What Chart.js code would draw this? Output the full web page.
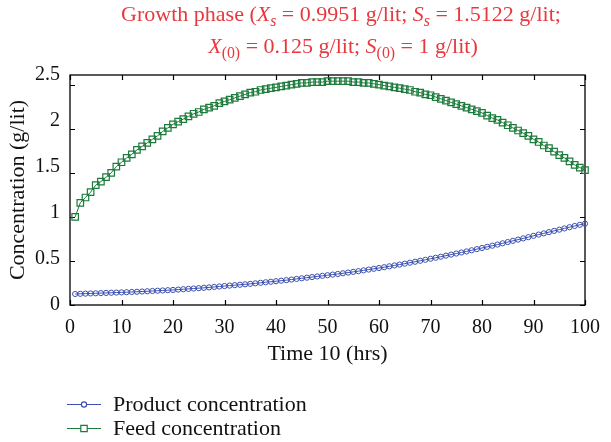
<!DOCTYPE html>
<html>
<head>
<meta charset="utf-8">
<script src="https://cdn.jsdelivr.net/npm/chart.js@4/dist/chart.umd.min.js"></script>
<style>
html,body{margin:0;padding:0;background:#fff;}
#wrap{width:611px;height:442px;}
</style>
</head>
<body>
<div id="wrap"><canvas id="c" width="611" height="442"></canvas></div>
<script>
// ---------- data ----------
const time = [1,2,3,4,5,6,7,8,9,10,11,12,13,14,15,16,17,18,19,20,
  21,22,23,24,25,26,27,28,29,30,31,32,33,34,35,36,37,38,39,40,
  41,42,43,44,45,46,47,48,49,50,51,52,53,54,55,56,57,58,59,60,
  61,62,63,64,65,66,67,68,69,70,71,72,73,74,75,76,77,78,79,80,
  81,82,83,84,85,86,87,88,89,90,91,92,93,94,95,96,97,98,99,100];

const productConc = [0.125,0.127,0.129,0.131,0.133,0.135,0.137,0.139,0.141,0.143,
  0.145,0.148,0.150,0.153,0.156,0.159,0.162,0.165,0.168,0.171,
  0.175,0.179,0.183,0.187,0.191,0.195,0.200,0.205,0.210,0.215,
  0.220,0.225,0.230,0.235,0.240,0.246,0.252,0.258,0.264,0.270,
  0.276,0.282,0.289,0.296,0.303,0.310,0.317,0.324,0.331,0.338,
  0.345,0.352,0.360,0.368,0.376,0.384,0.393,0.402,0.411,0.420,
  0.429,0.439,0.449,0.459,0.469,0.480,0.491,0.502,0.513,0.525,
  0.536,0.548,0.560,0.572,0.584,0.596,0.608,0.621,0.634,0.647,
  0.660,0.673,0.686,0.700,0.714,0.728,0.742,0.756,0.770,0.785,
  0.799,0.813,0.827,0.841,0.855,0.869,0.883,0.897,0.910,0.923];

const feedConc = [1.00,1.16,1.22,1.28,1.36,1.40,1.45,1.50,1.57,1.62,
  1.67,1.71,1.76,1.80,1.84,1.88,1.92,1.97,2.01,2.05,
  2.08,2.11,2.14,2.17,2.19,2.22,2.24,2.26,2.29,2.31,
  2.33,2.35,2.37,2.39,2.41,2.42,2.44,2.45,2.46,2.47,
  2.48,2.49,2.50,2.51,2.52,2.52,2.53,2.53,2.53,2.54,
  2.54,2.54,2.54,2.54,2.53,2.53,2.52,2.52,2.51,2.50,
  2.49,2.48,2.47,2.46,2.45,2.44,2.42,2.41,2.39,2.38,
  2.36,2.34,2.32,2.30,2.28,2.26,2.24,2.22,2.20,2.18,
  2.15,2.12,2.10,2.07,2.04,2.01,1.98,1.95,1.92,1.88,
  1.85,1.81,1.78,1.74,1.70,1.67,1.63,1.59,1.56,1.53];

const xTicks = [0,10,20,30,40,50,60,70,80,90,100];
const yTicks = [0,0.5,1,1.5,2,2.5];
const seriesNames = ['Product concentration','Feed concentration'];

// ---------- styles ----------
const FONT = '"Liberation Serif", "Times New Roman", serif';
const BLUE = '#3a4fb0';
const GREEN = '#1b7b3b';
const RED = '#e8383d';

const titleLines = [
  [{t:'Growth phase ('},{t:'X',it:1},{t:'s',it:1,sub:1},{t:' = 0.9951 g/lit; '},{t:'S',it:1},{t:'s',it:1,sub:1},{t:' = 1.5122 g/lit;'}],
  [{t:'X',it:1},{t:'(0)',sub:1},{t:' = 0.125 g/lit; '},{t:'S',it:1},{t:'(0)',sub:1},{t:' = 1 g/lit)'}]
];

function segFont(s, size){
  const sz = s.sub ? size*0.72 : size;
  return (s.it ? 'italic ' : '') + sz + 'px ' + FONT;
}
function drawRich(ctx, segs, cx, baseline, size){
  let w = 0;
  segs.forEach(s => { ctx.font = segFont(s,size); w += ctx.measureText(s.t).width; });
  let x = cx - w/2;
  segs.forEach(s => {
    ctx.font = segFont(s,size);
    ctx.fillText(s.t, x, baseline + (s.sub ? size*0.22 : 0));
    x += ctx.measureText(s.t).width;
  });
}

const decorPlugin = {
  id:'decor',
  beforeDatasetsDraw(chart){
    const {ctx, chartArea:a, scales:{x,y}} = chart;
    ctx.save();
    ctx.strokeStyle = '#000';
    ctx.lineWidth = 1.3;
    ctx.strokeRect(a.left, a.top, a.right-a.left, a.bottom-a.top);
    ctx.lineWidth = 1.2;
    ctx.beginPath();
    const L = 5;
    xTicks.forEach(v => {
      const px = Math.round(x.getPixelForValue(v)) + 0.5;
      ctx.moveTo(px, a.bottom); ctx.lineTo(px, a.bottom - L);
      ctx.moveTo(px, a.top); ctx.lineTo(px, a.top + L);
    });
    yTicks.forEach(v => {
      const py = Math.round(y.getPixelForValue(v)) + 0.5;
      ctx.moveTo(a.left, py); ctx.lineTo(a.left + L, py);
      ctx.moveTo(a.right, py); ctx.lineTo(a.right - L, py);
    });
    ctx.stroke();
    ctx.restore();
  },
  afterDraw(chart){
    const ctx = chart.ctx;
    ctx.save();
    // title
    ctx.fillStyle = RED;
    ctx.textBaseline = 'alphabetic';
    ctx.textAlign = 'left';
    drawRich(ctx, titleLines[0], 341, 21, 22);
    drawRich(ctx, titleLines[1], 343, 53, 22);
    // legend
    const rows = [
      {name: seriesNames[0], color: BLUE, style:'circle', y: 404},
      {name: seriesNames[1], color: GREEN, style:'rect', y: 428}
    ];
    rows.forEach(r => {
      ctx.strokeStyle = r.color;
      ctx.lineWidth = 1.2;
      ctx.beginPath(); ctx.moveTo(67, r.y + 0.5); ctx.lineTo(101, r.y + 0.5); ctx.stroke();
      ctx.beginPath();
      if (r.style === 'circle') ctx.arc(84, r.y + 0.5, 2.6, 0, Math.PI*2);
      else ctx.rect(80.8, r.y - 2.7, 6.4, 6.4);
      ctx.fillStyle = '#fff'; ctx.fill(); ctx.stroke();
      ctx.fillStyle = '#111';
      ctx.font = '22px ' + FONT;
      ctx.textBaseline = 'middle';
      ctx.fillText(r.name, 113, r.y + 1);
    });
    ctx.restore();
  }
};

new Chart(document.getElementById('c'), {
  type: 'line',
  data: {
    datasets: [
      {
        label: seriesNames[0], yAxisID: 'y',
        data: time.map((t,i) => ({x:t, y:productConc[i]})),
        borderColor: BLUE, borderWidth: 1,
        pointStyle: 'circle', pointRadius: 2.6, pointBorderWidth: 1,
        pointBorderColor: BLUE, pointBackgroundColor: 'rgba(255,255,255,0)',
        tension: 0, clip: false
      },
      {
        label: seriesNames[1], yAxisID: 'y',
        data: time.map((t,i) => ({x:t, y:feedConc[i]})),
        borderColor: GREEN, borderWidth: 1,
        pointStyle: 'rect', pointRadius: 4.6, pointBorderWidth: 1.2,
        pointBorderColor: GREEN, pointBackgroundColor: 'rgba(255,255,255,0)',
        tension: 0, clip: false
      }
    ]
  },
  options: {
    responsive: false,
    animation: false,
    devicePixelRatio: 1,
    layout: { padding: { top: 75, right: 15, bottom: 0, left: 0 } },
    plugins: { legend: { display: false }, title: { display: false }, tooltip: { enabled: false } },
    scales: {
      x: {
        type: 'linear', min: 0, max: 100,
        afterBuildTicks: s => { s.ticks = xTicks.map(v => ({value: v})); },
        afterFit: s => { s.height = 137; },
        grid: { display: false, drawTicks: false },
        border: { display: false },
        ticks: { color: '#111', font: { family: FONT, size: 20 }, padding: 11, maxRotation: 0, autoSkip: false,
                 callback: v => String(v) },
        title: { display: true, text: 'Time 10 (hrs)', color: '#111', font: { family: FONT, size: 22 },
                 padding: { top: 0, bottom: 75 } }
      },
      y: {
        type: 'linear', min: 0, max: 2.61, display: false
      },
      yLab: {
        type: 'linear', position: 'left', min: 0, max: 2.5,
        afterBuildTicks: s => { s.ticks = yTicks.map(v => ({value: v})); },
        afterFit: s => { s.width = 70; },
        grid: { display: false, drawTicks: false },
        border: { display: false },
        ticks: { color: '#111', font: { family: FONT, size: 20 }, padding: 10, autoSkip: false,
                 callback: v => String(v) },
        title: { display: true, text: 'Concentration (g/lit)', color: '#111', font: { family: FONT, size: 22 },
                 padding: { top: 5, bottom: 0 } }
      }
    }
  },
  plugins: [decorPlugin]
});
</script>
</body>
</html>
